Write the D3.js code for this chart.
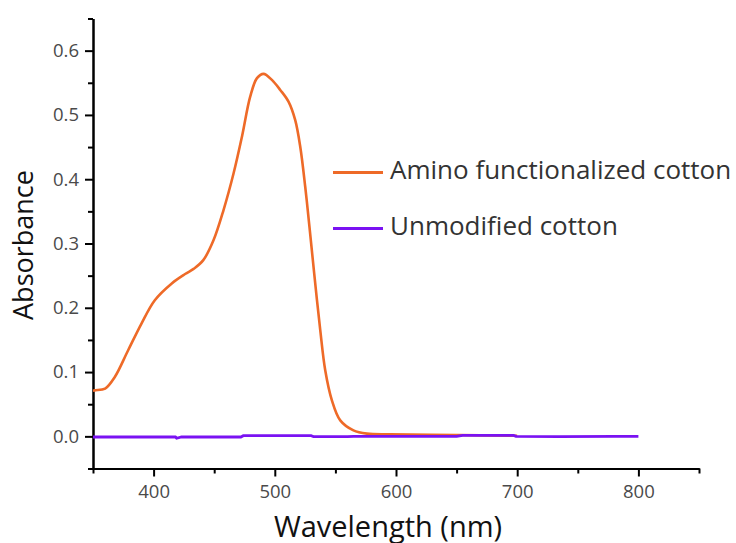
<!DOCTYPE html>
<html>
<head>
<meta charset="utf-8">
<script src="https://cdn.jsdelivr.net/npm/d3@7"></script>
<style>
  html, body { margin: 0; padding: 0; background: #fff; }
  svg { display: block; }
  text { font-family: "Open Sans", "Noto Sans", sans-serif; }
</style>
</head>
<body>
<svg id="chart" width="736" height="543"></svg>
<script>
// UV-Vis absorbance spectra (wavelength in nm, absorbance)
const aminoWavelength = [350, 352, 360, 368, 379, 390, 401, 415, 426, 433, 441, 449.5, 457.7, 466, 472.9, 479.7, 485.3, 490.7, 497.6, 504.5, 511.3, 516.8, 521, 525.1, 528.6, 532.5, 537.5, 541.6, 547.1, 554, 564.9, 576, 595, 650, 700];
const aminoAbsorbance = [0.071, 0.0717, 0.0743, 0.0924, 0.134, 0.1755, 0.2118, 0.2379, 0.2525, 0.2605, 0.2741, 0.3053, 0.352, 0.4092, 0.4662, 0.5285, 0.5572, 0.5639, 0.5545, 0.5389, 0.5207, 0.4922, 0.4506, 0.3883, 0.326, 0.2534, 0.1651, 0.1028, 0.0561, 0.0249, 0.0093, 0.0042, 0.0031, 0.002, 0.001];

const plainWavelength = [350, 418, 419, 423, 472, 474, 530, 532, 560, 565, 600, 650, 655, 697, 699, 735, 780, 800];
const plainAbsorbance = [-0.001, -0.001, -0.003, -0.001, -0.001, 0.001, 0.001, -0.0005, -0.0005, 0.0, 0.0, 0.0, 0.0015, 0.0015, 0.0, -0.0005, 0.0, 0.0];

const seriesNames = ["Amino functionalized cotton", "Unmodified cotton"];
const seriesColors = ["#EE6A28", "#7A12F2"];

const xMajorTicks = [400, 500, 600, 700, 800];
const xMinorTicks = [350, 450, 550, 650, 750, 850];
const yMajorTicks = [0.0, 0.1, 0.2, 0.3, 0.4, 0.5, 0.6];
const yMinorTicks = [-0.05, 0.05, 0.15, 0.25, 0.35, 0.45, 0.55, 0.65];

const xTitle = "Wavelength (nm)";
const yTitle = "Absorbance";

const svg = d3.select("#chart");
const plotLeft = 93, plotRight = 699, plotTop = 18.5, plotBottom = 468.5;

const x = d3.scaleLinear().domain([350, 850]).range([plotLeft, plotRight]);
const y = d3.scaleLinear().domain([-0.05, 0.65]).range([plotBottom, plotTop]);

// minor ticks (no labels)
const xMinor = svg.append("g").attr("transform", `translate(0,${plotBottom})`)
  .call(d3.axisBottom(x).tickValues(xMinorTicks).tickSize(5).tickSizeOuter(0).tickFormat(""));
const yMinor = svg.append("g").attr("transform", `translate(${plotLeft},0)`)
  .call(d3.axisLeft(y).tickValues(yMinorTicks).tickSize(5).tickSizeOuter(0).tickFormat(""));

// major ticks with labels
const xAxis = svg.append("g").attr("transform", `translate(0,${plotBottom})`)
  .call(d3.axisBottom(x).tickValues(xMajorTicks).tickSize(8).tickSizeOuter(0).tickPadding(8).tickFormat(d3.format("d")));
const yAxis = svg.append("g").attr("transform", `translate(${plotLeft},0)`)
  .call(d3.axisLeft(y).tickValues(yMajorTicks).tickSize(8).tickSizeOuter(0).tickPadding(6).tickFormat(d3.format(".1f")));

[xMinor, yMinor, xAxis, yAxis].forEach(g => {
  g.selectAll("path.domain").attr("stroke", "#000").attr("stroke-width", 2);
  g.selectAll(".tick line").attr("stroke", "#000").attr("stroke-width", 2);
});
[xAxis, yAxis].forEach(g => {
  g.selectAll(".tick text").attr("fill", "#4a4a4a").style("font-size", "18.5px");
});

// spectra
const line = d3.line().x(d => x(d[0])).y(d => y(d[1])).curve(d3.curveCatmullRom.alpha(0.5));
const aminoData = aminoWavelength.map((w, i) => [w, aminoAbsorbance[i]]);
const plainData = plainWavelength.map((w, i) => [w, plainAbsorbance[i]]);

svg.append("path").datum(aminoData).attr("d", line)
  .attr("fill", "none").attr("stroke", seriesColors[0]).attr("stroke-width", 2.6)
  .attr("stroke-linejoin", "round");
svg.append("path").datum(plainData).attr("d", d3.line().x(d => x(d[0])).y(d => y(d[1])))
  .attr("fill", "none").attr("stroke", seriesColors[1]).attr("stroke-width", 2.8);

// legend
const legend = svg.append("g");
seriesNames.forEach((name, i) => {
  const ly = 172.5 + i * 56;
  legend.append("line").attr("x1", 333).attr("x2", 383).attr("y1", ly).attr("y2", ly)
    .attr("stroke", seriesColors[i]).attr("stroke-width", 3);
  legend.append("text").attr("x", 390).attr("y", ly + 6)
    .attr("fill", "#333").style("font-size", "26px").text(name);
});

// axis titles
svg.append("text").attr("x", 388).attr("y", 536.5)
  .attr("text-anchor", "middle").attr("fill", "#111").style("font-size", "29px").text(xTitle);
svg.append("text").attr("transform", "translate(33,245) rotate(-90)")
  .attr("text-anchor", "middle").attr("fill", "#111").style("font-size", "27px").text(yTitle);
</script>
</body>
</html>
